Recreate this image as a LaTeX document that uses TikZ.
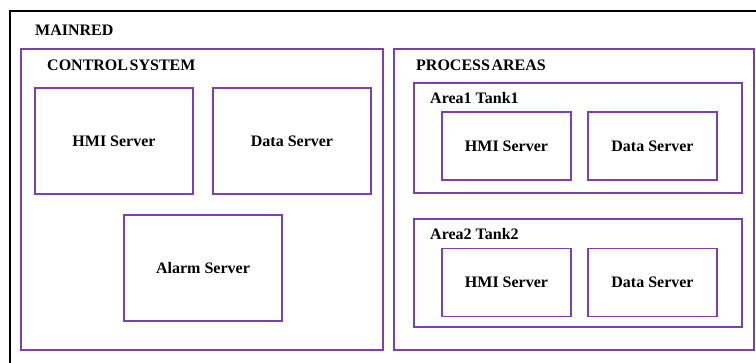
\documentclass[tikz,border=0pt]{standalone}
\usepackage{fontspec}
\setmainfont{Liberation Serif}
\usepackage{xcolor}
\usepackage{tikz}

\definecolor{boxpurple}{RGB}{125,65,175}

\begin{document}
\begin{tikzpicture}[x=1pt,y=-1pt,
    frame/.style={draw=boxpurple,line width=1.5pt},
    title/.style={anchor=west,inner sep=0pt,font=\bfseries\fontsize{16}{19}\selectfont},
    bigserver/.style={frame,minimum width=158pt,minimum height=106pt,inner sep=0pt,font=\bfseries\fontsize{16}{19}\selectfont},
    smallserver/.style={frame,minimum width=129pt,minimum height=68pt,inner sep=0pt,font=\bfseries\fontsize{16}{19}\selectfont}
    ]
    \useasboundingbox (0,0) rectangle (756,363);
    \clip (0,0) rectangle (756,363);
    % Outer frame (runs off the page right and bottom)
    \draw[black,line width=1.6pt] (10,11) rectangle (775,385);
    \node[title] (mainred) at (35,30) {MAINRED};

    % Control system
    \draw[frame] (21,49) rectangle (383,350);
    \node[title] (ctrl) at (47,65) {CONTROL\hspace{0.1em}SYSTEM};
    \node[bigserver] (chmi) at (114,141) {HMI Server};
    \node[bigserver] (cdata) at (292,141) {Data Server};
    \node[bigserver] (calarm) at (203,268) {Alarm Server};

    % Process areas
    \draw[frame] (394,49) rectangle (754,350);
    \node[title] (proc) at (416,65) {PROCESS\hspace{0.1em}AREAS};

    \draw[frame] (414,83) rectangle (742,193);
    \node[title] (area1) at (430,98) {Area1 Tank1};
    \node[smallserver] (ahmi1) at (506.5,146) {HMI Server};
    \node[smallserver] (adata1) at (652.5,146) {Data Server};

    \draw[frame] (414,219) rectangle (742,327);
    \node[title] (area2) at (430,234) {Area2 Tank2};
    \node[smallserver] (ahmi2) at (506.5,282.5) {HMI Server};
    \node[smallserver] (adata2) at (652.5,282.5) {Data Server};
\end{tikzpicture}
\end{document}
